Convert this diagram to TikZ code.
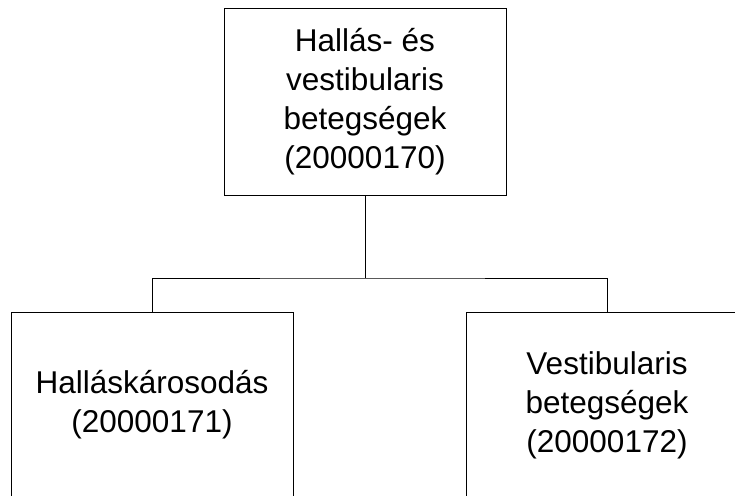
\documentclass[tikz,border=0pt]{standalone}
\usepackage{fontspec}
\setmainfont{Liberation Sans}
\begin{document}
\begin{tikzpicture}[x=1pt,y=-1pt,
  box/.style={shape=rectangle,draw,line width=1pt,minimum width=282pt,minimum height=186pt,
    align=center,font=\fontsize{31.5}{39}\selectfont}]
\useasboundingbox (0,0) rectangle (735,495);
\clip (0,0) rectangle (735,495);
\node(top) at (365,102)[box]   {Hallás- és\\vestibularis\\betegségek\\(20000170)};
\node(left) at (152,405)[box]  {Halláskárosodás\\(20000171)};
\node(right) at (607,405)[box] {Vestibularis\\betegségek\\(20000172)};
\coordinate(split) at (365,278);


\draw[line width=1pt] (top.south) -- (split);
\draw[line width=1pt] (left.north) |- (split) -| (right.north);


\end{tikzpicture}
\end{document}
